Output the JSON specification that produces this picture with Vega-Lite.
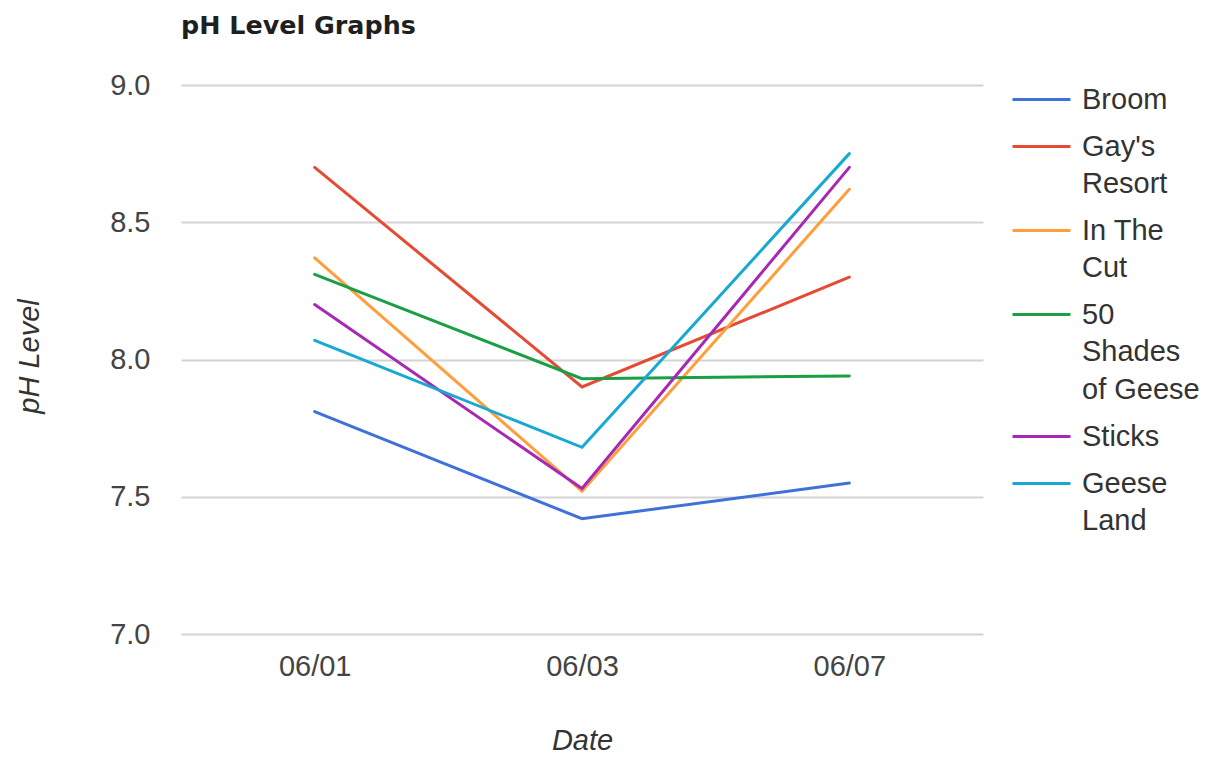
{
  "$schema": "https://vega.github.io/schema/vega-lite/v6.json",
  "width": 802,
  "height": 549,
  "autosize": {"type": "none"},
  "padding": {"left": 181, "top": 85, "right": 235, "bottom": 127},
  "background": "white",
  "view": {"stroke": null},
  "title": {
    "text": "pH Level Graphs",
    "anchor": "start",
    "frame": "group",
    "font": "DejaVu Sans",
    "fontWeight": "bold",
    "fontSize": 25.4,
    "color": "#1f1f1f",
    "offset": 30
  },
  "data": {
    "values": [
      {"date": "06/01", "site": "Broom", "ph": 7.81},
      {"date": "06/03", "site": "Broom", "ph": 7.42},
      {"date": "06/07", "site": "Broom", "ph": 7.55},
      {"date": "06/01", "site": "Gay's Resort", "ph": 8.70},
      {"date": "06/03", "site": "Gay's Resort", "ph": 7.90},
      {"date": "06/07", "site": "Gay's Resort", "ph": 8.30},
      {"date": "06/01", "site": "In The Cut", "ph": 8.37},
      {"date": "06/03", "site": "In The Cut", "ph": 7.52},
      {"date": "06/07", "site": "In The Cut", "ph": 8.62},
      {"date": "06/01", "site": "50 Shades of Geese", "ph": 8.31},
      {"date": "06/03", "site": "50 Shades of Geese", "ph": 7.93},
      {"date": "06/07", "site": "50 Shades of Geese", "ph": 7.94},
      {"date": "06/01", "site": "Sticks", "ph": 8.20},
      {"date": "06/03", "site": "Sticks", "ph": 7.53},
      {"date": "06/07", "site": "Sticks", "ph": 8.70},
      {"date": "06/01", "site": "Geese Land", "ph": 8.07},
      {"date": "06/03", "site": "Geese Land", "ph": 7.68},
      {"date": "06/07", "site": "Geese Land", "ph": 8.75}
    ]
  },
  "mark": {"type": "line", "strokeWidth": 3, "strokeJoin": "miter", "strokeCap": "round"},
  "encoding": {
    "x": {
      "field": "date",
      "type": "ordinal",
      "scale": {"type": "point", "padding": 0.5},
      "axis": {
        "title": "Date",
        "labelAngle": 0,
        "domain": false,
        "ticks": false,
        "grid": false,
        "labelFont": "Liberation Sans",
        "labelFontSize": 29,
        "labelColor": "#444444",
        "labelPadding": 18,
        "titleFont": "Liberation Sans",
        "titleFontSize": 29,
        "titleFontStyle": "italic",
        "titleFontWeight": "normal",
        "titleColor": "#333333",
        "titleBaseline": "middle",
        "titleY": 106
      }
    },
    "y": {
      "field": "ph",
      "type": "quantitative",
      "scale": {"domain": [7, 9], "nice": false, "zero": false},
      "axis": {
        "title": "pH Level",
        "values": [7, 7.5, 8, 8.5, 9],
        "format": ".1f",
        "domain": false,
        "ticks": false,
        "gridColor": "#d4d4d4",
        "gridWidth": 2,
        "labelFont": "Liberation Sans",
        "labelFontSize": 29,
        "labelColor": "#444444",
        "labelPadding": 31,
        "titleFont": "Liberation Sans",
        "titleFontSize": 29,
        "titleFontStyle": "italic",
        "titleFontWeight": "normal",
        "titleColor": "#333333",
        "titleAngle": -90,
        "titleAlign": "center",
        "titleBaseline": "middle",
        "titleX": -152,
        "titleY": 271
      }
    },
    "color": {
      "field": "site",
      "type": "nominal",
      "scale": {
        "domain": ["Broom", "Gay's Resort", "In The Cut", "50 Shades of Geese", "Sticks", "Geese Land"],
        "range": ["#3f71d9", "#e64a33", "#ff9e3a", "#1a9f45", "#a628b5", "#17a9d3"]
      },
      "legend": {
        "title": null,
        "orient": "none",
        "legendX": 830,
        "legendY": -16,
        "symbolType": "M-1,0L1,0",
        "symbolSize": 3364,
        "symbolStrokeWidth": 3,
        "labelFont": "Liberation Sans",
        "labelFontSize": 29,
        "labelColor": "#333333",
        "labelLimit": 300,
        "labelOffset": 10,
        "rowPadding": 1,
        "labelExpr": "datum.label == \"Gay's Resort\" ? [\"Gay's\", \"Resort\"] : datum.label == 'In The Cut' ? ['In The', 'Cut'] : datum.label == '50 Shades of Geese' ? ['50', 'Shades', 'of Geese'] : datum.label == 'Geese Land' ? ['Geese', 'Land'] : datum.label",
        "encode": {
          "labels": {
            "update": {
              "lineHeight": {"value": 37.5}
            }
          }
        }
      }
    }
  }
}
